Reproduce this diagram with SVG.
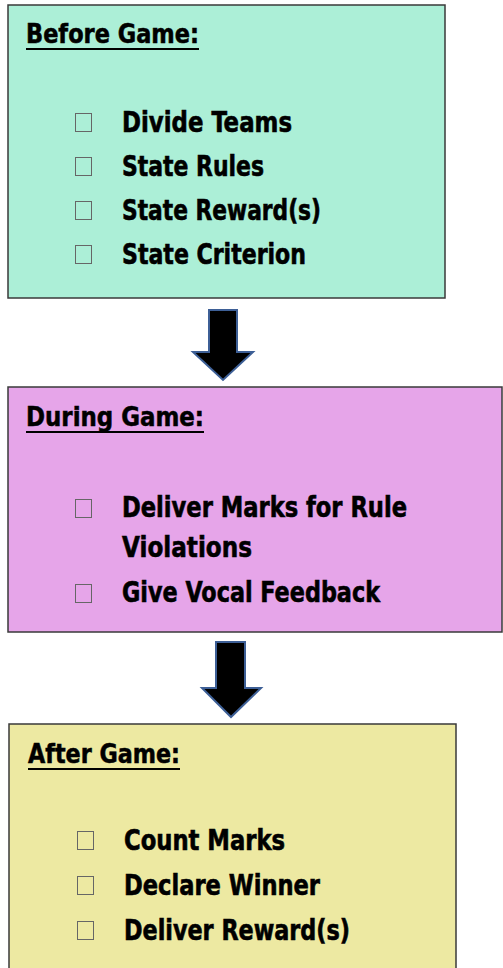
<svg xmlns="http://www.w3.org/2000/svg" width="503" height="968" viewBox="0 0 503 968">
  <style>
    .box { stroke: #3a3a3a; stroke-width: 1.5; }
    .title { font-family: "Liberation Sans Narrow", "DejaVu Sans Condensed", "Liberation Sans", sans-serif; font-weight: bold; font-size: 26px; fill: #000; stroke: #000; stroke-width: 0.5; }
    .item { font-family: "Liberation Sans Narrow", "DejaVu Sans Condensed", "Liberation Sans", sans-serif; font-weight: bold; font-size: 29px; fill: #000; stroke: #000; stroke-width: 0.6; }
    .bullet { fill: none; stroke: #666; stroke-width: 1; }
    .arrow { fill: #000; stroke: #3d5f96; stroke-width: 2; stroke-linejoin: miter; }
    .uline { stroke: #000; stroke-width: 2; }
  </style>
  <rect width="503" height="968" fill="#fff"/>

  <!-- first phase: set-up steps -->
  <g id="before-game">
    <rect class="box" x="8" y="5" width="437" height="293" fill="#acefd7"/>
    <text class="title" x="26" y="43" textLength="173" lengthAdjust="spacingAndGlyphs">Before Game:</text>
    <line class="uline" x1="26" y1="49" x2="199" y2="49"/>
    <rect class="bullet" x="75.5" y="113.5" width="16" height="18"/>
    <text class="item" x="122" y="132" textLength="170" lengthAdjust="spacingAndGlyphs">Divide Teams</text>
    <rect class="bullet" x="75.5" y="157.5" width="16" height="18"/>
    <text class="item" x="122" y="176" textLength="142" lengthAdjust="spacingAndGlyphs">State Rules</text>
    <rect class="bullet" x="75.5" y="201.5" width="16" height="18"/>
    <text class="item" x="122" y="220" textLength="199" lengthAdjust="spacingAndGlyphs">State Reward(s)</text>
    <rect class="bullet" x="75.5" y="245.5" width="16" height="18"/>
    <text class="item" x="122" y="264" textLength="184" lengthAdjust="spacingAndGlyphs">State Criterion</text>
  </g>

  <!-- second phase: while playing -->
  <g id="during-game">
    <rect class="box" x="8" y="387" width="494" height="245" fill="#e6a5e9"/>
    <text class="title" x="26" y="426" textLength="178" lengthAdjust="spacingAndGlyphs">During Game:</text>
    <line class="uline" x1="26" y1="432" x2="204" y2="432"/>
    <rect class="bullet" x="75.5" y="499.5" width="16" height="18"/>
    <text class="item" x="122" y="517" textLength="285" lengthAdjust="spacingAndGlyphs">Deliver Marks for Rule</text>
    <text class="item" x="122" y="557" textLength="130" lengthAdjust="spacingAndGlyphs">Violations</text>
    <rect class="bullet" x="75.5" y="584.5" width="16" height="18"/>
    <text class="item" x="122" y="602" textLength="258" lengthAdjust="spacingAndGlyphs">Give Vocal Feedback</text>
  </g>

  <!-- third phase: wrap-up -->
  <g id="after-game">
    <rect class="box" x="9" y="724" width="447" height="250" fill="#ede9a2"/>
    <text class="title" x="28" y="763" textLength="152" lengthAdjust="spacingAndGlyphs">After Game:</text>
    <line class="uline" x1="28" y1="769" x2="180" y2="769"/>
    <rect class="bullet" x="77.5" y="831.5" width="16" height="18"/>
    <text class="item" x="124" y="850" textLength="161" lengthAdjust="spacingAndGlyphs">Count Marks</text>
    <rect class="bullet" x="77.5" y="876.5" width="16" height="18"/>
    <text class="item" x="124" y="895" textLength="196" lengthAdjust="spacingAndGlyphs">Declare Winner</text>
    <rect class="bullet" x="77.5" y="921.5" width="16" height="18"/>
    <text class="item" x="124" y="940" textLength="226" lengthAdjust="spacingAndGlyphs">Deliver Reward(s)</text>
  </g>

  <g id="connectors">
    <polygon class="arrow" points="209,310 237,310 237,352 253,352 223,380 193,352 209,352"/>
    <polygon class="arrow" points="216,642 245,642 245,688 261,688 231,717 202,688 216,688"/>
  </g>
</svg>
